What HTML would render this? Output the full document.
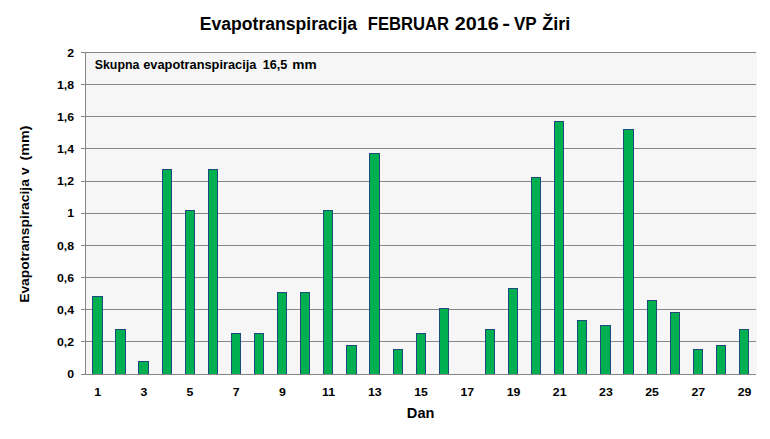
<!DOCTYPE html>
<html><head><meta charset="utf-8"><style>
html,body{margin:0;padding:0;background:#fff;width:770px;height:439px;overflow:hidden}
svg{display:block}
text{font-family:"Liberation Sans",sans-serif;font-weight:bold;fill:#000}
.ax{font-size:11px}
</style></head><body>
<svg width="770" height="439" viewBox="0 0 770 439" shape-rendering="crispEdges">
<rect width="770" height="439" fill="#fff"/>
<rect x="86" y="52" width="671" height="322" fill="#f6f6f6"/>
<rect x="81" y="374" width="675" height="1" fill="#868686"/>
<rect x="81" y="341" width="675" height="1" fill="#868686"/>
<rect x="81" y="309" width="675" height="1" fill="#868686"/>
<rect x="81" y="277" width="675" height="1" fill="#868686"/>
<rect x="81" y="245" width="675" height="1" fill="#868686"/>
<rect x="81" y="213" width="675" height="1" fill="#868686"/>
<rect x="81" y="181" width="675" height="1" fill="#868686"/>
<rect x="81" y="148" width="675" height="1" fill="#868686"/>
<rect x="81" y="116" width="675" height="1" fill="#868686"/>
<rect x="81" y="84" width="675" height="1" fill="#868686"/>
<rect x="81" y="52" width="675" height="1" fill="#868686"/>
<rect x="85" y="52" width="1" height="323" fill="#868686"/>
<rect x="92" y="296" width="11" height="78" fill="#1f4a7e"/>
<rect x="93" y="297" width="9" height="77" fill="#00b050"/>
<rect x="115" y="329" width="11" height="45" fill="#1f4a7e"/>
<rect x="116" y="330" width="9" height="44" fill="#00b050"/>
<rect x="138" y="361" width="11" height="13" fill="#1f4a7e"/>
<rect x="139" y="362" width="9" height="12" fill="#00b050"/>
<rect x="162" y="169" width="10" height="205" fill="#1f4a7e"/>
<rect x="163" y="170" width="8" height="204" fill="#00b050"/>
<rect x="185" y="210" width="10" height="164" fill="#1f4a7e"/>
<rect x="186" y="211" width="8" height="163" fill="#00b050"/>
<rect x="208" y="169" width="10" height="205" fill="#1f4a7e"/>
<rect x="209" y="170" width="8" height="204" fill="#00b050"/>
<rect x="231" y="333" width="10" height="41" fill="#1f4a7e"/>
<rect x="232" y="334" width="8" height="40" fill="#00b050"/>
<rect x="254" y="333" width="10" height="41" fill="#1f4a7e"/>
<rect x="255" y="334" width="8" height="40" fill="#00b050"/>
<rect x="277" y="292" width="10" height="82" fill="#1f4a7e"/>
<rect x="278" y="293" width="8" height="81" fill="#00b050"/>
<rect x="300" y="292" width="10" height="82" fill="#1f4a7e"/>
<rect x="301" y="293" width="8" height="81" fill="#00b050"/>
<rect x="323" y="210" width="10" height="164" fill="#1f4a7e"/>
<rect x="324" y="211" width="8" height="163" fill="#00b050"/>
<rect x="346" y="345" width="11" height="29" fill="#1f4a7e"/>
<rect x="347" y="346" width="9" height="28" fill="#00b050"/>
<rect x="369" y="153" width="11" height="221" fill="#1f4a7e"/>
<rect x="370" y="154" width="9" height="220" fill="#00b050"/>
<rect x="393" y="349" width="10" height="25" fill="#1f4a7e"/>
<rect x="394" y="350" width="8" height="24" fill="#00b050"/>
<rect x="416" y="333" width="10" height="41" fill="#1f4a7e"/>
<rect x="417" y="334" width="8" height="40" fill="#00b050"/>
<rect x="439" y="308" width="10" height="66" fill="#1f4a7e"/>
<rect x="440" y="309" width="8" height="65" fill="#00b050"/>
<rect x="485" y="329" width="10" height="45" fill="#1f4a7e"/>
<rect x="486" y="330" width="8" height="44" fill="#00b050"/>
<rect x="508" y="288" width="10" height="86" fill="#1f4a7e"/>
<rect x="509" y="289" width="8" height="85" fill="#00b050"/>
<rect x="531" y="177" width="10" height="197" fill="#1f4a7e"/>
<rect x="532" y="178" width="8" height="196" fill="#00b050"/>
<rect x="554" y="121" width="10" height="253" fill="#1f4a7e"/>
<rect x="555" y="122" width="8" height="252" fill="#00b050"/>
<rect x="577" y="320" width="10" height="54" fill="#1f4a7e"/>
<rect x="578" y="321" width="8" height="53" fill="#00b050"/>
<rect x="600" y="325" width="11" height="49" fill="#1f4a7e"/>
<rect x="601" y="326" width="9" height="48" fill="#00b050"/>
<rect x="623" y="129" width="11" height="245" fill="#1f4a7e"/>
<rect x="624" y="130" width="9" height="244" fill="#00b050"/>
<rect x="647" y="300" width="10" height="74" fill="#1f4a7e"/>
<rect x="648" y="301" width="8" height="73" fill="#00b050"/>
<rect x="670" y="312" width="10" height="62" fill="#1f4a7e"/>
<rect x="671" y="313" width="8" height="61" fill="#00b050"/>
<rect x="693" y="349" width="10" height="25" fill="#1f4a7e"/>
<rect x="694" y="350" width="8" height="24" fill="#00b050"/>
<rect x="716" y="345" width="10" height="29" fill="#1f4a7e"/>
<rect x="717" y="346" width="8" height="28" fill="#00b050"/>
<rect x="739" y="329" width="10" height="45" fill="#1f4a7e"/>
<rect x="740" y="330" width="8" height="44" fill="#00b050"/>
<rect x="81" y="374" width="675" height="1" fill="#868686"/>
<g shape-rendering="auto">
<text x="199.78" y="30" font-size="18" textLength="157.35" lengthAdjust="spacingAndGlyphs">Evapotranspiracija</text>
<text x="367.85" y="30" font-size="18" textLength="81.11" lengthAdjust="spacingAndGlyphs">FEBRUAR</text>
<text x="454.78" y="30" font-size="18" textLength="44.03" lengthAdjust="spacingAndGlyphs">2016</text>
<text x="502.23" y="30" font-size="18" textLength="7.73" lengthAdjust="spacingAndGlyphs">-</text>
<text x="513.96" y="30" font-size="18" textLength="22.72" lengthAdjust="spacingAndGlyphs">VP</text>
<text x="542.20" y="30" font-size="18" textLength="28.07" lengthAdjust="spacingAndGlyphs">Žiri</text>
<text x="94.72" y="69" font-size="13" textLength="44.65" lengthAdjust="spacingAndGlyphs">Skupna</text>
<text x="143.21" y="69" font-size="13" textLength="113.29" lengthAdjust="spacingAndGlyphs">evapotranspiracija</text>
<text x="262.77" y="69" font-size="13" textLength="24.63" lengthAdjust="spacingAndGlyphs">16,5</text>
<text x="292.21" y="69" font-size="13" textLength="24.42" lengthAdjust="spacingAndGlyphs">mm</text>
<text x="406.86" y="418" font-size="14" textLength="27.53" lengthAdjust="spacingAndGlyphs">Dan</text>
<g transform="translate(29,302) rotate(-90)"><text x="-0.80" y="0" font-size="13" textLength="123.61" lengthAdjust="spacingAndGlyphs">Evapotranspiracija</text><text x="126.94" y="0" font-size="13" textLength="7.50" lengthAdjust="spacingAndGlyphs">v</text><text x="141.57" y="0" font-size="13" textLength="35.09" lengthAdjust="spacingAndGlyphs">(mm)</text></g>
<text transform="translate(74,377.5) scale(1.12,1)" text-anchor="end" class="ax">0</text><text transform="translate(74,345.5) scale(1.12,1)" text-anchor="end" class="ax">0,2</text><text transform="translate(74,313.5) scale(1.12,1)" text-anchor="end" class="ax">0,4</text><text transform="translate(74,281.5) scale(1.12,1)" text-anchor="end" class="ax">0,6</text><text transform="translate(74,249.5) scale(1.12,1)" text-anchor="end" class="ax">0,8</text><text transform="translate(74,216.5) scale(1.12,1)" text-anchor="end" class="ax">1</text><text transform="translate(74,184.5) scale(1.12,1)" text-anchor="end" class="ax">1,2</text><text transform="translate(74,152.5) scale(1.12,1)" text-anchor="end" class="ax">1,4</text><text transform="translate(74,120.5) scale(1.12,1)" text-anchor="end" class="ax">1,6</text><text transform="translate(74,88.5) scale(1.12,1)" text-anchor="end" class="ax">1,8</text><text transform="translate(74,56.5) scale(1.12,1)" text-anchor="end" class="ax">2</text>
<text transform="translate(97.6,396) scale(1.12,1)" text-anchor="middle" class="ax">1</text><text transform="translate(143.8,396) scale(1.12,1)" text-anchor="middle" class="ax">3</text><text transform="translate(190.0,396) scale(1.12,1)" text-anchor="middle" class="ax">5</text><text transform="translate(236.2,396) scale(1.12,1)" text-anchor="middle" class="ax">7</text><text transform="translate(282.4,396) scale(1.12,1)" text-anchor="middle" class="ax">9</text><text transform="translate(328.6,396) scale(1.12,1)" text-anchor="middle" class="ax">11</text><text transform="translate(374.8,396) scale(1.12,1)" text-anchor="middle" class="ax">13</text><text transform="translate(421.1,396) scale(1.12,1)" text-anchor="middle" class="ax">15</text><text transform="translate(467.3,396) scale(1.12,1)" text-anchor="middle" class="ax">17</text><text transform="translate(513.5,396) scale(1.12,1)" text-anchor="middle" class="ax">19</text><text transform="translate(559.7,396) scale(1.12,1)" text-anchor="middle" class="ax">21</text><text transform="translate(605.9,396) scale(1.12,1)" text-anchor="middle" class="ax">23</text><text transform="translate(652.1,396) scale(1.12,1)" text-anchor="middle" class="ax">25</text><text transform="translate(698.3,396) scale(1.12,1)" text-anchor="middle" class="ax">27</text><text transform="translate(744.5,396) scale(1.12,1)" text-anchor="middle" class="ax">29</text>
</g>
</svg>
</body></html>
